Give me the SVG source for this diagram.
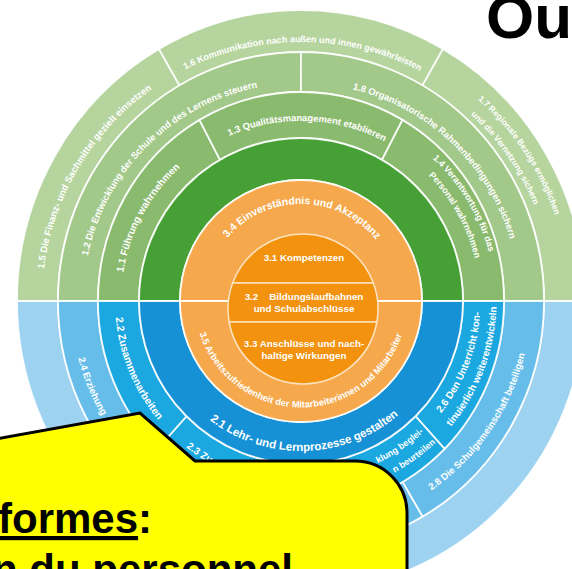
<svg xmlns="http://www.w3.org/2000/svg" xmlns:xlink="http://www.w3.org/1999/xlink" width="572" height="569" viewBox="0 0 572 569">
<style>
.s{stroke:#ffffff;stroke-opacity:0.9;stroke-width:1.8}
.g5{fill:#b6d49e}.g4{fill:#a2c88a}.g3{fill:#8aba6e}.g2{fill:#46a035}
.b5{fill:#9dd2f0}.b4{fill:#66bdea}.b3{fill:#1ba7e0}.b2{fill:#1791d6}
.o1{fill:#f6a84c}.o0{fill:#f2920f;stroke:#fde4c2;stroke-width:1.5}
.t{fill:#ffffff;font-family:"Liberation Sans",Arial,sans-serif;font-weight:bold}
.c{fill:#000000;font-family:"Liberation Sans",Arial,sans-serif;font-weight:bold}
</style>
<defs>
<path id="cw259" d="M 42 301 A 259 259 0 0 1 560 301"/>
<path id="cw268" d="M 33 301 A 268 268 0 0 1 569 301"/>
<path id="cw252" d="M 49 301 A 252 252 0 0 1 553 301"/>
<path id="cw218" d="M 83 301 A 218 218 0 0 1 519 301"/>
<path id="cw180" d="M 121 301 A 180 180 0 0 1 481 301"/>
<path id="cw179" d="M 122 301 A 179 179 0 0 1 480 301"/>
<path id="cw194" d="M 107 301 A 194 194 0 0 1 495 301"/>
<path id="cw97" d="M 204 301 A 97 97 0 0 1 398 301"/>
<path id="ccw106" d="M 194.5 301 A 106.5 106.5 0 0 0 407.5 301"/>
<path id="ccw150" d="M 151 301 A 150 150 0 0 0 451 301"/>
<path id="ccw186" d="M 115 301 A 186 186 0 0 0 487 301"/>
<path id="ccw179" d="M 121.5 301 A 179.5 179.5 0 0 0 480.5 301"/>
<path id="ccw195" d="M 105.5 301 A 195.5 195.5 0 0 0 496.5 301"/>
<path id="ccw230" d="M 71 301 A 230 230 0 0 0 531 301"/>
</defs>

<g id="n1-5"><path class="g5 s" d="M 17 301 A 284 291 0 0 1 159 49 L 179.5 85.4 A 243 249 0 0 0 58 301 Z"/>
<text class="t" font-size="9.5" text-anchor="middle"><textPath xlink:href="#cw259" startOffset="140.1">1.5 Die Finanz- und Sachmittel gezielt einsetzen</textPath></text></g>
<g id="n1-6"><path class="g5 s" d="M 159 49 A 284 291 0 0 1 443 49 L 422.5 85.4 A 243 249 0 0 0 179.5 85.4 Z"/>
<text class="t" font-size="9" text-anchor="middle"><textPath xlink:href="#cw259" startOffset="408.2">1.6 Kommunikation nach außen und innen gewährleisten</textPath></text></g>
<g id="n1-7"><path class="g5 s" d="M 443 49 A 284 291 0 0 1 585 301 L 544 301 A 243 249 0 0 0 422.5 85.4 Z"/>
<text class="t" font-size="8.5" text-anchor="middle"><textPath xlink:href="#cw268" startOffset="683.9">1.7 Regionale Bezüge ermöglichen</textPath></text>
<text class="t" font-size="8.5" text-anchor="middle"><textPath xlink:href="#cw252" startOffset="637.3">und die Vernetzung sichern</textPath></text></g>
<g id="n2-outer"><path class="b5 s" d="M 585 301 A 284 291 0 0 1 17 301 L 58 301 A 243 249 0 0 0 544 301 Z"/></g>

<g id="n1-2"><path class="g4 s" d="M 58 301 A 243 249 0 0 1 301 52 L 301 92 A 203 209 0 0 0 98 301 Z"/>
<text class="t" font-size="9.4" text-anchor="middle"><textPath xlink:href="#cw218" startOffset="172">1.2 Die Entwicklung der Schule und des Lernens steuern</textPath></text></g>
<g id="n1-8"><path class="g4 s" d="M 301 52 A 243 249 0 0 1 544 301 L 504 301 A 203 209 0 0 0 301 92 Z"/>
<text class="t" font-size="9.4" text-anchor="middle"><textPath xlink:href="#cw218" startOffset="507.9">1.8 Organisatorische Rahmenbedingungen sichern</textPath></text></g>
<g id="n2-8"><path class="b4 s" d="M 544 301 A 243 249 0 0 1 422.5 516.6 L 402.5 482 A 203 209 0 0 0 504 301 Z"/>
<text class="t" font-size="9.6" text-anchor="middle"><textPath xlink:href="#ccw230" startOffset="584.1">2.8 Die Schulgemeinschaft beteiligen</textPath></text></g>
<g id="n2-4"><path class="b4 s" d="M 422.5 516.6 A 243 249 0 0 1 58 301 L 98 301 A 203 209 0 0 0 402.5 482 Z"/>
<text class="t" font-size="9.6" text-anchor="start"><textPath xlink:href="#ccw230" startOffset="57.8">2.4 Erziehung</textPath></text></g>

<g id="n1-1"><path class="g3 s" d="M 98 301 A 203 209 0 0 1 199.5 120 L 220 159.8 A 162 163 0 0 0 139 301 Z"/>
<text class="t" font-size="10" text-anchor="middle"><textPath xlink:href="#cw180" startOffset="89.5">1.1 Führung wahrnehmen</textPath></text></g>
<g id="n1-3"><path class="g3 s" d="M 199.5 120 A 203 209 0 0 1 402.5 120 L 382 159.8 A 162 163 0 0 0 220 159.8 Z"/>
<text class="t" font-size="9.4" text-anchor="middle"><textPath xlink:href="#cw180" startOffset="289">1.3 Qualitätsmanagement etablieren</textPath></text></g>
<g id="n1-4"><path class="g3 s" d="M 402.5 120 A 203 209 0 0 1 504 301 L 463 301 A 162 163 0 0 0 382 159.8 Z"/>
<text class="t" font-size="9" text-anchor="middle"><textPath xlink:href="#cw194" startOffset="504.5">1.4 Verantwortung für das</textPath></text>
<text class="t" font-size="9" text-anchor="middle"><textPath xlink:href="#cw179" startOffset="471">Personal wahrnehmen</textPath></text></g>
<g id="n2-6"><path class="b3 s" d="M 504 301 A 203 209 0 0 1 444.5 448.8 L 415.55 416.26 A 162 163 0 0 0 463 301 Z"/>
<text class="t" font-size="10" text-anchor="middle"><textPath xlink:href="#ccw179" startOffset="497.3">2.6 Den Unterricht kon-</textPath></text>
<text class="t" font-size="10" text-anchor="middle"><textPath xlink:href="#ccw195" startOffset="542.9">tinuierlich weiterentwickeln</textPath></text></g>
<g id="n2-5"><path class="b3 s" d="M 444.5 448.8 A 203 209 0 0 1 301 510 L 301 464 A 162 163 0 0 0 415.55 416.26 Z"/>
<text class="t" font-size="9" text-anchor="end"><textPath xlink:href="#ccw179" startOffset="416.7">klung beglei-</textPath></text>
<text class="t" font-size="9" text-anchor="end"><textPath xlink:href="#ccw195" startOffset="455.5">n beurteilen</textPath></text></g>
<g id="n2-3"><path class="b3 s" d="M 301 510 A 203 209 0 0 1 157.5 448.8 L 186.45 416.26 A 162 163 0 0 0 301 464 Z"/>
<text class="t" font-size="10" text-anchor="start"><textPath xlink:href="#ccw186" startOffset="168.2">2.3 Zu</textPath></text></g>
<g id="n2-2"><path class="b3 s" d="M 157.5 448.8 A 203 209 0 0 1 98 301 L 139 301 A 162 163 0 0 0 186.45 416.26 Z"/>
<text class="t" font-size="10.4" text-anchor="middle"><textPath xlink:href="#ccw186" startOffset="73">2.2 Zusammenarbeiten</textPath></text></g>

<g id="n1-0"><path class="g2 s" d="M 139 301 A 162 163 0 0 1 463 301 L 422 301 A 121 121 0 0 0 180 301 Z"/></g>
<g id="n2-1"><path class="b2 s" d="M 463 301 A 162 163 0 0 1 139 301 L 180 301 A 121 121 0 0 0 422 301 Z"/>
<text class="t" font-size="11.5" text-anchor="middle"><textPath xlink:href="#ccw150" startOffset="239.5">2.1 Lehr- und Lernprozesse gestalten</textPath></text></g>

<g id="n3-4"><path class="o1 s" d="M 180 301 A 121 121 0 0 1 422 301 Z"/>
<text class="t" font-size="10.5" text-anchor="middle"><textPath xlink:href="#cw97" startOffset="153.2">3.4 Einverständnis und Akzeptanz</textPath></text></g>
<g id="n3-5"><path class="o1 s" d="M 422 301 A 121 121 0 0 1 180 301 Z"/>
<text class="t" font-size="9.3" text-anchor="middle"><textPath xlink:href="#ccw106" startOffset="166.4">3.5 Arbeitszufriedenheit der Mitarbeiterinnen und Mitarbeiter</textPath></text></g>

<g id="n3-1"><path class="o0" d="M 232.65 283 A 75 75 0 0 1 373.35 283 Z"/>
<text class="t" font-size="9.8" text-anchor="middle" x="304" y="261">3.1 Kompetenzen</text></g>
<g id="n3-2"><path class="o0" d="M 232.65 283 L 373.35 283 A 75 75 0 0 1 376.86 322 L 229.14 322 A 75 75 0 0 1 232.65 283 Z"/>
<text class="t" font-size="9.8" text-anchor="middle" style="white-space:pre"><tspan x="304" y="300">3.2    Bildungslaufbahnen</tspan><tspan x="304" y="312">und Schulabschlüsse</tspan></text></g>
<g id="n3-3"><path class="o0" d="M 376.86 322 A 75 75 0 0 1 229.14 322 Z"/>
<text class="t" font-size="9.8" text-anchor="middle"><tspan x="304" y="347">3.3 Anschlüsse und nach-</tspan><tspan x="304" y="359">haltige Wirkungen</tspan></text></g>

<g id="title"><text class="c" font-size="62" x="486" y="38">Ou</text></g>

<g id="callout">
<path d="M -10 440 L 140 413 L 195 461 L 355 461 A 52 52 0 0 1 407 513 L 407 590 L -10 590 Z" fill="#ffff00" stroke="#000000" stroke-width="3" stroke-linejoin="miter"/>
<text class="c" font-size="42" x="-2" y="533"><tspan text-decoration="underline">formes</tspan>:</text>
<text class="c" font-size="42" x="-8" y="584">n du personnel</text>
</g>
<g id="connectors"/>
</svg>
